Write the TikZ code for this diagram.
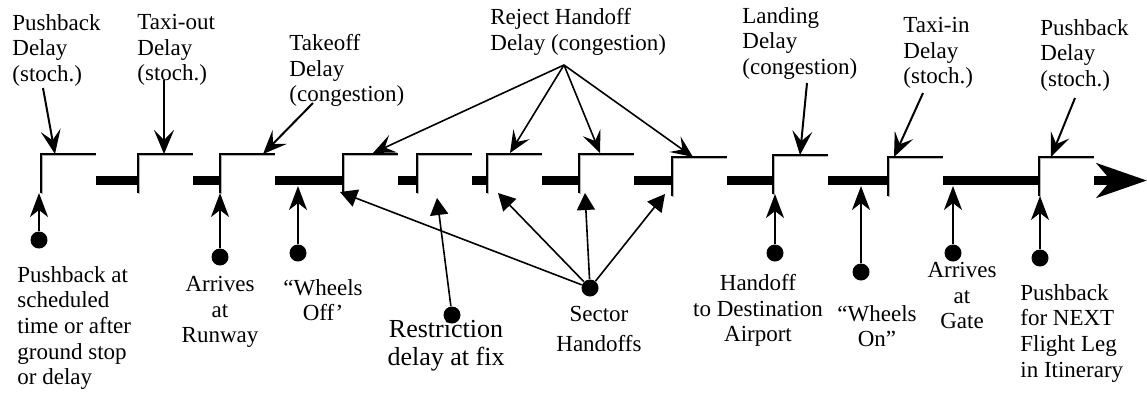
\documentclass[tikz,border=0pt]{standalone}
\usepackage{fontspec}
\setmainfont{Liberation Serif}
\usepackage{tikz}
\usetikzlibrary{arrows.meta, positioning, calc}

\begin{document}
\begin{tikzpicture}[x=0.5pt, y=-0.5pt,
    every node/.style={font=\fontsize{11.5}{12.8}\selectfont, inner sep=0pt},
    lbl/.style={anchor=north west, align=left},
    clbl/.style={anchor=north, align=center},
    dot/.style={circle, fill, minimum size=8.5pt},
    stepline/.style={line width=1pt},
    bar/.style={line width=4.5pt},
    dly/.style={line width=1pt, -{Stealth[length=12pt, width=10pt, inset=5pt]}},
    rej/.style={line width=0.8pt, -{Stealth[length=11pt, width=9.5pt, inset=4.5pt]}},
    evt/.style={line width=1pt, -{Stealth[length=12pt, width=9pt, inset=3.5pt]}},
    hnd/.style={line width=0.8pt, -{Triangle[length=8.5pt, width=9pt]}}]
    \useasboundingbox (0,0) rectangle (1147,393);
    % steps on the time line
    \foreach \x/\y [count=\i] in {41/154, 138/154, 220/154, 343/154, 417/154, 487/154,
        579/154, 672/157, 773/155, 888/157, 1039/157} {
      \draw[stepline, gray!60] (\x+1,\y+40) -- (\x+1,\y+1) -- (\x+55,\y+1);
      \draw[stepline] (\x,\y+39) -- (\x,\y) -- (\x+55,\y);
      \coordinate (s\i) at (\x,\y);
      \coordinate (e\i) at (\x+55,\y);
      \coordinate (b\i) at (\x,\y+39);
    }
    \coordinate (axis) at (0,180.5);
    \coordinate (bb) at (0,186);
    \coordinate (end) at (1147,180.5);
    \foreach \a/\b in {1/2, 2/3, 3/4, 4/5, 5/6, 6/7, 7/8, 8/9, 9/10, 10/11}
      \draw[bar] (e\a |- axis) -- (s\b |- axis);
    \draw[bar, -{Stealth[length=25pt, width=17pt, inset=7pt]}] (e11 |- axis) -- (end);

    % delays
    \node[lbl] (pbd) at (12,14) {Pushback\\Delay\\(stoch.)};
    \node[lbl] (txo) at (137,14) {Taxi-out\\Delay\\(stoch.)};
    \node[lbl] (tkd) at (289,34) {Takeoff\\Delay\\(congestion)};
    \node[lbl] (rjd) at (490,8) {Reject Handoff\\Delay (congestion)};
    \node[lbl] (lnd) at (742,7) {Landing\\Delay\\(congestion)};
    \node[lbl] (txi) at (903,17) {Taxi-in\\Delay\\(stoch.)};
    \node[lbl] (pbn) at (1040,19) {Pushback\\Delay\\(stoch.)};
    \coordinate (a1) at (43,88);
    \coordinate (a2) at (164,80);
    \coordinate (a3) at (313,103);
    \coordinate (rj) at (564,65);
    \coordinate (a9) at (807,83);
    \coordinate (a10) at (923,93);
    \coordinate (a11) at (1075,98);
    \draw[dly] (a1) -- ([shift={(14,0)}]s1);
    \draw[dly] (a2) -- ([shift={(26,0)}]s2);
    \draw[dly] (a3) -- ([shift={(43,0)}]s3);
    \draw[rej] (rj) -- ([shift={(30,-1)}]s4);
    \draw[rej] (rj) -- ([shift={(23,-1)}]s6);
    \draw[rej] (rj) -- ([shift={(21,-1)}]s7);
    \draw[rej] (rj) -- ([shift={(21,0)}]s8);
    \draw[dly] (a9) -- ([shift={(27,0)}]s9);
    \draw[dly] (a10) -- ([shift={(6,0)}]s10);
    \draw[dly] (a11) -- ([shift={(12,0)}]s11);

    % events
    \node[dot] (d1) at (39,240) {};
    \node[lbl] (pbs) at (17,266) {Pushback at\\scheduled\\time or after\\ground stop\\or delay};
    \draw[evt] (d1) -- (d1 |- b1);
    \node[dot] (d2) at (220,257) {};
    \node[clbl] (arw) at (220,276) {Arrives\\at\\Runway};
    \draw[evt] (d2) -- (d2 |- b3);
    \node[dot] (d3) at (298,253) {};
    \node[clbl] (wof) at (323,279) {“Wheels\\Off’};
    \draw[evt] (d3) -- (d3 |- bb);
    \node[dot] (d4) at (452,315) {};
    \node[clbl, font=\fontsize{13}{14}\selectfont] (rst) at (446,320) {Restriction\\delay at fix};
    \draw[hnd] (d4) -- ([shift={(20,5)}]b5);
    \node[dot] (d5) at (590,288) {};
    \node[clbl] (sct) at (599,306) {Sector\\[2pt]Handoffs};
    \draw[hnd] (d5) -- ([shift={(-3,-1)}]b4);
    \draw[hnd] (d5) -- ([shift={(11,0)}]b6);
    \draw[hnd] (d5) -- ([shift={(6,0)}]b7);
    \draw[hnd] (d5) -- ([shift={(-7,-2)}]b8);
    \node[dot] (d6) at (775,253) {};
    \node[clbl] (hdf) at (758,274) {Handoff\\to Destination\\Airport};
    \draw[evt] (d6) -- (d6 |- b9);
    \node[dot] (d7) at (861,272) {};
    \node[clbl] (won) at (877,305) {“Wheels\\On”};
    \draw[evt] (d7) -- (d7 |- bb);
    \node[dot] (d8) at (953,253) {};
    \node[clbl] (agt) at (962,262) {Arrives\\at\\Gate};
    \draw[evt] (d8) -- (d8 |- bb);
    \node[dot] (d9) at (1040,258) {};
    \node[lbl] (pbf) at (1020,284) {Pushback\\for NEXT\\Flight Leg\\in Itinerary};
    \draw[evt] (d9) -- (d9 |- b11);
\end{tikzpicture}
\end{document}
